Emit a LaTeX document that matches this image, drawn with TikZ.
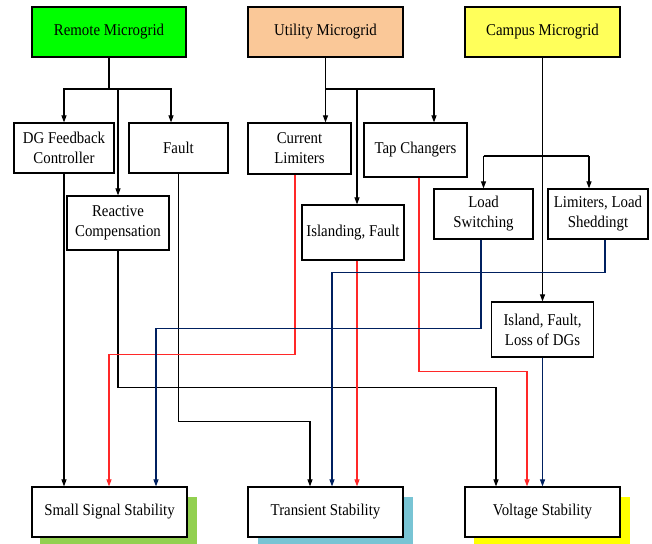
\documentclass[tikz,border=0pt]{standalone}
\usepackage{fontspec}
\setmainfont{Liberation Serif}[FakeStretch=0.9]
\usetikzlibrary{arrows.meta}
\definecolor{rgreen}{RGB}{0,255,0}
\definecolor{upeach}{RGB}{250,200,152}
\definecolor{cyell}{RGB}{255,255,90}
\definecolor{shgreen}{RGB}{146,208,80}
\definecolor{shcyan}{RGB}{120,196,212}
\definecolor{shyell}{RGB}{255,255,0}
\definecolor{lred}{RGB}{255,40,40}
\definecolor{lblue}{RGB}{0,32,96}
\tikzset{
  box/.style={draw=black, line width=1.2pt, fill=white, inner sep=0pt, align=center,
    font=\fontsize{16.5}{20}\selectfont},
  arr/.style={line width=1.1pt, -{Triangle[length=7pt,width=5pt]}},
  ln/.style={line width=1.1pt},
}
\begin{document}
\begin{tikzpicture}[x=1pt,y=-1pt]
\useasboundingbox (0,0) rectangle (652,543);
\clip (0,0) rectangle (652,543);
\fill[white] (0,0) rectangle (652,543);
% shadows
\fill[shgreen] (40,497) rectangle (197,550);
\fill[shcyan] (258,497) rectangle (413,550);
\fill[shyell] (474,497) rectangle (630,550);
% top nodes
\node[box, fill=rgreen, minimum width=154pt, minimum height=50pt] (remote) at (109,32) {Remote Microgrid};
\node[box, fill=upeach, minimum width=155pt, minimum height=50pt] (utility) at (325.5,32) {Utility Microgrid};
\node[box, fill=cyell, minimum width=155pt, minimum height=50pt] (campus) at (542.5,32) {Campus Microgrid};
% middle nodes
\node[box, minimum width=100pt, minimum height=50pt] (dgfb) at (64,148) {DG Feedback\\Controller};
\node[box, minimum width=99pt, minimum height=50pt] (fault) at (178.5,148) {Fault};
\node[box, minimum width=102pt, minimum height=54pt] (react) at (118,223) {Reactive\\Compensation};
\node[box, minimum width=103pt, minimum height=51pt] (curlim) at (299.5,148.5) {Current\\Limiters};
\node[box, minimum width=103pt, minimum height=54pt] (tap) at (415.5,150) {Tap Changers};
\node[box, minimum width=102pt, minimum height=55pt] (island) at (353,232.5) {Islanding, Fault};
\node[box, minimum width=99pt, minimum height=50pt] (loadsw) at (483.5,214) {Load\\Switching};
\node[box, minimum width=100pt, minimum height=50pt] (limload) at (598,214) {Limiters, Load\\Sheddingt};
\node[box, minimum width=102pt, minimum height=55pt] (iflo) at (542.5,329.5) {Island, Fault,\\Loss of DGs};
% bottom nodes
\node[box, minimum width=155pt, minimum height=50pt] (sss) at (109.5,512) {Small Signal Stability};
\node[box, minimum width=155pt, minimum height=50pt] (ts) at (325.5,512) {Transient Stability};
\node[box, minimum width=155pt, minimum height=50pt] (vs) at (542.5,512) {Voltage Stability};
% junctions
\coordinate (j1) at (109,89);
\coordinate (j2) at (325.5,89);
\coordinate (j3) at (542.5,156);
% remote branches
\draw[ln] (remote.south) -- (j1);
\draw[arr] (j1) -| (dgfb.north);
\draw[arr] (j1) -| ([xshift=-7.5pt]fault.north);
\draw[arr] (react.north |- j1) -- (react.north);
% utility branches
\draw[arr] (utility.south) -- (utility.south |- curlim.north);
\draw[arr] (j2) -| ([xshift=18.5pt]tap.north);
\draw[arr] ([xshift=4pt]island.north |- j2) -- ([xshift=4pt]island.north);
% campus branches
\draw[arr] (campus.south) -- (iflo.north);
\draw[arr] (loadsw.north |- j3) -- (loadsw.north);
\draw[ln] (loadsw.north |- j3) -- ([xshift=-9pt]limload.north |- j3);
\draw[arr] ([xshift=-9pt]limload.north |- j3) -- ([xshift=-9pt]limload.north);
% black to stability
\draw[arr] (dgfb.south) -- (dgfb.south |- sss.north);
\draw[arr] (fault.south) -- ++(0,248) -| ([xshift=-15.5pt]ts.north);
\draw[arr] (react.south) -- ++(0,137) -| ([xshift=-46.5pt]vs.north);
% red
\draw[arr, color=lred] ([xshift=-4.5pt]curlim.south) -- ++(0,180) -| ([xshift=-0.5pt]sss.north);
\draw[arr, color=lred] ([xshift=4pt]island.south) -- ([xshift=31.5pt]ts.north);
\draw[arr, color=lred] ([xshift=3.5pt]tap.south) -- ++(0,194) -| ([xshift=-15.5pt]vs.north);
% blue
\draw[arr, color=lblue] ([xshift=-2.5pt]loadsw.south) -- ++(0,89) -| ([xshift=46.5pt]sss.north);
\draw[arr, color=lblue] ([xshift=7pt]limload.south) -- ++(0,33) -| ([xshift=6.5pt]ts.north);
\draw[arr, color=lblue] (iflo.south) -- (iflo.south |- vs.north);
\end{tikzpicture}
\end{document}
